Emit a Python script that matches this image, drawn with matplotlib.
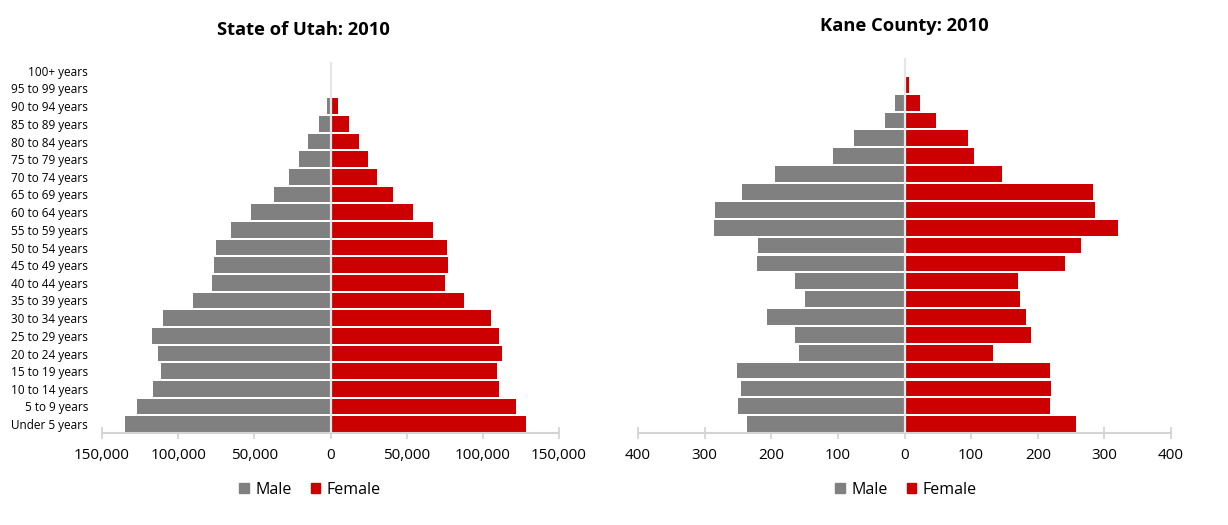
import matplotlib
matplotlib.use("Agg")
import matplotlib.pyplot as plt
from matplotlib.patches import Patch

plt.rcParams['font.family'] = ['Open Sans', 'DejaVu Sans']

# ----- data -----
age_groups = ["Under 5 years", "5 to 9 years", "10 to 14 years", "15 to 19 years",
              "20 to 24 years", "25 to 29 years", "30 to 34 years", "35 to 39 years",
              "40 to 44 years", "45 to 49 years", "50 to 54 years", "55 to 59 years",
              "60 to 64 years", "65 to 69 years", "70 to 74 years", "75 to 79 years",
              "80 to 84 years", "85 to 89 years", "90 to 94 years", "95 to 99 years",
              "100+ years"]

utah_male = [135100, 127000, 116500, 111000, 113000, 117500, 109800, 90000,
             77900, 76700, 74900, 65200, 51900, 37300, 27000, 20800,
             14500, 7500, 2000, 300, 30]
utah_female = [128100, 121500, 110500, 109000, 112800, 110800, 105300, 87500,
               75200, 76900, 76200, 67200, 54400, 41100, 30600, 24600,
               19000, 12300, 5000, 1000, 150]

kane_male = [237, 250, 245, 251, 158, 164, 206, 149,
             164, 222, 220, 286, 284, 244, 194, 107,
             76, 30, 15, 0, 0]
kane_female = [257, 219, 220, 218, 133, 190, 183, 174,
               170, 241, 265, 321, 286, 283, 147, 105,
               95, 48, 23, 7, 0]

utah_ticks = [-150000, -100000, -50000, 0, 50000, 100000, 150000]
utah_ticklabels = ["150,000", "100,000", "50,000", "0", "50,000", "100,000", "150,000"]
kane_ticks = [-400, -300, -200, -100, 0, 100, 200, 300, 400]
kane_ticklabels = ["400", "300", "200", "100", "0", "100", "200", "300", "400"]

GREY = "#808080"
RED = "#cc0000"
AXIS = "#d4d4d4"

fig = plt.figure(figsize=(12.28, 5.25), dpi=100)
ax1 = fig.add_axes([102 / 1228, 92 / 525, 457 / 1228, 371 / 525])
ax2 = fig.add_axes([638 / 1228, 92 / 525, 533 / 1228, 375 / 525])


def pyramid(ax, male, female, ticks, ticklabels, lim, show_labels):
    y = range(len(age_groups))
    ax.barh(y, [-m for m in male], height=0.88, color=GREY, zorder=2)
    ax.barh(y, female, height=0.88, color=RED, zorder=2)
    ax.axvline(0, color="#e6e6e6", lw=1.6, zorder=3)
    ax.set_xlim(-lim, lim)
    ax.set_ylim(-0.5, len(age_groups) - 0.5)
    ax.set_xticks(ticks)
    ax.set_xticklabels(ticklabels, fontsize=11)
    for s in ["top", "left", "right"]:
        ax.spines[s].set_visible(False)
    ax.spines["bottom"].set_color(AXIS)
    ax.spines["bottom"].set_linewidth(1.5)
    ax.tick_params(axis="x", direction="inout", length=9, width=1.3,
                   color=AXIS, pad=6, labelcolor="black")
    ax.set_yticks(list(y))
    if show_labels:
        ax.set_yticklabels(age_groups, fontsize=8.5)
        ax.tick_params(axis="y", length=0, pad=10)
    else:
        ax.set_yticklabels([])
        ax.tick_params(axis="y", length=0)
    handles = [Patch(color=GREY, label="Male"), Patch(color=RED, label="Female")]
    return handles


h = pyramid(ax1, utah_male, utah_female, utah_ticks, utah_ticklabels, 150000, True)
pyramid(ax2, kane_male, kane_female, kane_ticks, kane_ticklabels, 400, False)

fig.text(303 / 1228, 1 - 30 / 525, "State of Utah: 2010", ha="center", va="center",
         fontsize=13.2, fontweight="bold")
fig.text(904 / 1228, 1 - 26 / 525, "Kane County: 2010", ha="center", va="center",
         fontsize=13.2, fontweight="bold")

for cx in (310 / 1228, 906 / 1228):
    fig.legend(handles=h, loc="center", bbox_to_anchor=(cx, 1 - 490 / 525), ncol=2,
               frameon=False, fontsize=11.5, handlelength=0.6, handleheight=0.6,
               handletextpad=0.4, columnspacing=1.2)

fig.savefig("out.png", dpi=100)
